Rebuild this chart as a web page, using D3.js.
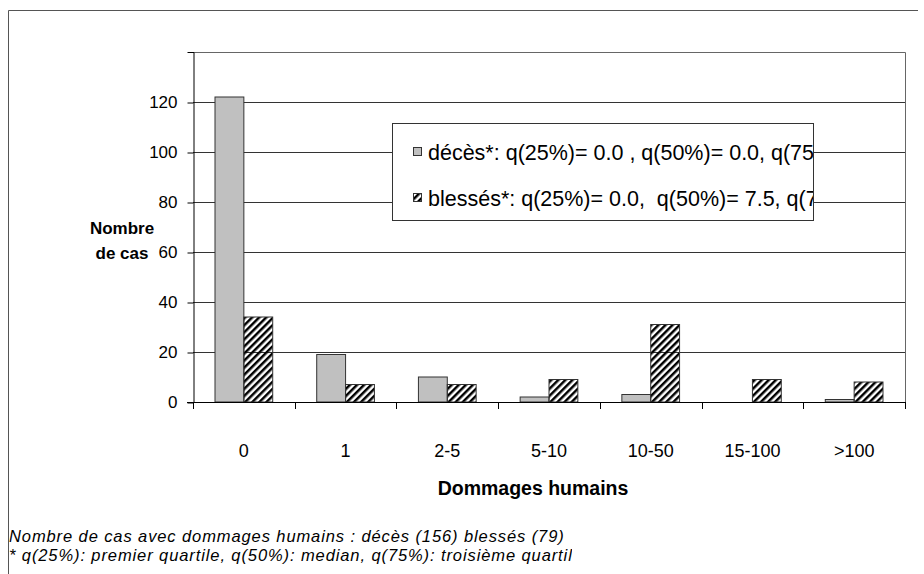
<!DOCTYPE html>
<html>
<head>
<meta charset="utf-8">
<script src="https://cdn.jsdelivr.net/npm/d3@7"></script>
<style>
  body { margin: 0; background: #fff; }
  svg { display: block; font-family: Arial, "Liberation Sans", sans-serif; }
  .y.axis .tick text { font-size: 17px; fill: #000; }
  .x.axis .tick text { font-size: 18px; fill: #000; }
  .legend-text { white-space: pre; }
</style>
</head>
<body>
<svg width="924" height="574"></svg>
<script>
// **** Data ****
const categories = ['0', '1', '2-5', '5-10', '10-50', '15-100', '>100'];
const deces = [122, 19, 10, 2, 3, 0, 1];
const blesses = [34, 7, 7, 9, 31, 9, 8];
const yTicks = [0, 20, 40, 60, 80, 100, 120];
const seriesNames = ['décès*: q(25%)= 0.0 , q(50%)= 0.0, q(75%)',
                     'blessés*: q(25%)= 0.0,  q(50%)= 7.5, q(75%)'];
const footnotes = ['Nombre de cas avec dommages humains : décès (156) blessés (79)',
                   '* q(25%): premier quartile, q(50%): median, q(75%): troisième quartile'];

const svg = d3.select('svg');

svg.append('rect').attr('width', 924).attr('height', 574).attr('fill', '#fff');

// hatch pattern for the second series
const defs = svg.append('defs');
defs.append('pattern')
    .attr('id', 'hatch')
    .attr('patternUnits', 'userSpaceOnUse')
    .attr('width', 5).attr('height', 5)
    .attr('patternTransform', 'rotate(45)')
    .append('rect')
    .attr('width', 2.5).attr('height', 5)
    .attr('fill', '#000');

defs.append('clipPath').attr('id', 'legendClip')
    .append('rect').attr('x', 392).attr('y', 123).attr('width', 421).attr('height', 97);

defs.append('clipPath').attr('id', 'noteClip')
    .append('rect').attr('x', 0).attr('y', 510).attr('width', 572).attr('height', 64);

// outer frame
svg.append('path')
    .attr('d', 'M8.5,574V10.5H918')
    .attr('fill', 'none')
    .attr('stroke', '#555');

// **** Scales ****
const xScale = d3.scaleBand().domain(categories).range([193, 905]);
const yScale = d3.scaleLinear().domain([0, 140]).range([402, 52]);
const subScale = d3.scaleBand().domain(['deces', 'blesses'])
    .range([22, xScale.bandwidth() - 22]);

// plot border (top + right)
svg.append('path')
    .attr('d', `M193,${yScale(140) + 0.5}H${905 + 0.5}V${yScale(0)}`)
    .attr('fill', 'none')
    .attr('stroke', '#666');

// gridlines
svg.append('g')
    .selectAll('line')
    .data(yTicks.filter(d => d > 0))
    .join('line')
    .attr('x1', 193).attr('x2', 905)
    .attr('y1', d => Math.round(yScale(d)) + 0.5)
    .attr('y2', d => Math.round(yScale(d)) + 0.5)
    .attr('stroke', '#333');

// **** Bars ****
const groups = svg.append('g')
    .selectAll('g')
    .data(categories)
    .join('g')
    .attr('transform', d => `translate(${xScale(d)},0)`);

groups.append('rect')
    .attr('x', subScale('deces'))
    .attr('y', (d, i) => yScale(deces[i]))
    .attr('width', subScale.bandwidth())
    .attr('height', (d, i) => yScale(0) - yScale(deces[i]))
    .attr('fill', '#c0c0c0')
    .attr('stroke', '#333')
    .style('display', (d, i) => deces[i] > 0 ? null : 'none');

groups.append('rect')
    .attr('x', subScale('blesses'))
    .attr('y', (d, i) => yScale(blesses[i]))
    .attr('width', subScale.bandwidth())
    .attr('height', (d, i) => yScale(0) - yScale(blesses[i]))
    .attr('fill', 'url(#hatch)')
    .attr('stroke', '#333');

// **** Axes ****
svg.append('g')
    .attr('class', 'y axis')
    .attr('transform', 'translate(193.5,0)')
    .call(d3.axisLeft(yScale).tickValues(yTicks).tickSize(6).tickPadding(10))
    .call(g => g.selectAll('.tick line').attr('transform', 'translate(0,0.5)'));

svg.append('g')
    .attr('class', 'x axis')
    .attr('transform', 'translate(0,402.5)')
    .call(d3.axisBottom(xScale).tickSize(0).tickPadding(42))
    .call(g => g.select('.domain').remove());

svg.append('line')
    .attr('x1', 187).attr('x2', 905)
    .attr('y1', 402.5).attr('y2', 402.5)
    .attr('stroke', '#000');

// tick marks between categories
svg.append('g')
    .selectAll('line')
    .data(d3.range(categories.length + 1))
    .join('line')
    .attr('x1', i => Math.round(193 + i * xScale.bandwidth()) + 0.5)
    .attr('x2', i => Math.round(193 + i * xScale.bandwidth()) + 0.5)
    .attr('y1', 402).attr('y2', 409)
    .attr('stroke', '#000');

// axis titles
svg.append('text')
    .attr('x', 122).attr('y', 234)
    .attr('text-anchor', 'middle')
    .style('font-size', '17px').style('font-weight', 'bold')
    .text('Nombre');

svg.append('text')
    .attr('x', 122).attr('y', 259)
    .attr('text-anchor', 'middle')
    .style('font-size', '17px').style('font-weight', 'bold')
    .text('de cas');

svg.append('text')
    .attr('x', 533).attr('y', 495)
    .attr('text-anchor', 'middle')
    .style('font-size', '19.5px').style('font-weight', 'bold')
    .text('Dommages humains');

// **** Legend ****
const legend = svg.append('g');

legend.append('rect')
    .attr('x', 392.5).attr('y', 123.5)
    .attr('width', 421).attr('height', 97)
    .attr('fill', '#fff')
    .attr('stroke', '#333');

const legendRows = legend.append('g')
    .attr('clip-path', 'url(#legendClip)')
    .selectAll('g')
    .data(seriesNames)
    .join('g')
    .attr('transform', (d, i) => `translate(413,${152 + i * 46})`);

legendRows.append('rect')
    .attr('x', 0.5).attr('y', -4.5)
    .attr('width', 8).attr('height', 8)
    .attr('fill', (d, i) => i === 0 ? '#c0c0c0' : 'url(#hatch)')
    .attr('stroke', '#333');

legendRows.append('text')
    .attr('class', 'legend-text')
    .attr('x', 15).attr('y', 7.5)
    .style('font-size', '21.5px')
    .text(d => d);

// **** Footnotes ****
svg.append('g')
    .attr('clip-path', 'url(#noteClip)')
    .selectAll('text')
    .data(footnotes)
    .join('text')
    .attr('x', 9).attr('y', (d, i) => 542 + i * 19)
    .style('font-size', '16.5px').style('font-style', 'italic')
    .style('letter-spacing', '0.9px')
    .text(d => d);
</script>
</body>
</html>
